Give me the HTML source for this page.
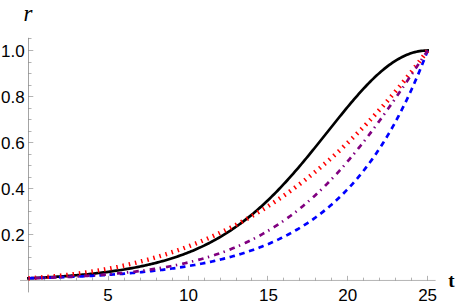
<!DOCTYPE html>
<html><head><meta charset="utf-8"><style>
html,body{margin:0;padding:0;background:#fff;}
svg{display:block;}
</style></head><body>
<svg width="457" height="306" viewBox="0 0 457 306">
<rect width="457" height="306" fill="#fff"/>
<g stroke="#666" stroke-width="0.5" fill="none">
<line x1="20" y1="280.45" x2="435.6" y2="280.45" stroke-width="0.5"/>
<line x1="28.5" y1="292.4" x2="28.5" y2="37.8" stroke-width="0.6"/>
<line x1="44.50" y1="280.45" x2="44.50" y2="277.65"/>
<line x1="60.50" y1="280.45" x2="60.50" y2="277.65"/>
<line x1="76.50" y1="280.45" x2="76.50" y2="277.65"/>
<line x1="92.50" y1="280.45" x2="92.50" y2="277.65"/>
<line x1="108.50" y1="280.45" x2="108.50" y2="275.85"/>
<line x1="124.50" y1="280.45" x2="124.50" y2="277.65"/>
<line x1="140.50" y1="280.45" x2="140.50" y2="277.65"/>
<line x1="156.50" y1="280.45" x2="156.50" y2="277.65"/>
<line x1="172.50" y1="280.45" x2="172.50" y2="277.65"/>
<line x1="188.50" y1="280.45" x2="188.50" y2="275.85"/>
<line x1="204.50" y1="280.45" x2="204.50" y2="277.65"/>
<line x1="220.50" y1="280.45" x2="220.50" y2="277.65"/>
<line x1="236.50" y1="280.45" x2="236.50" y2="277.65"/>
<line x1="251.50" y1="280.45" x2="251.50" y2="277.65"/>
<line x1="267.50" y1="280.45" x2="267.50" y2="275.85"/>
<line x1="283.50" y1="280.45" x2="283.50" y2="277.65"/>
<line x1="299.50" y1="280.45" x2="299.50" y2="277.65"/>
<line x1="315.50" y1="280.45" x2="315.50" y2="277.65"/>
<line x1="331.50" y1="280.45" x2="331.50" y2="277.65"/>
<line x1="347.50" y1="280.45" x2="347.50" y2="275.85"/>
<line x1="363.50" y1="280.45" x2="363.50" y2="277.65"/>
<line x1="379.50" y1="280.45" x2="379.50" y2="277.65"/>
<line x1="395.50" y1="280.45" x2="395.50" y2="277.65"/>
<line x1="411.50" y1="280.45" x2="411.50" y2="277.65"/>
<line x1="427.50" y1="280.45" x2="427.50" y2="275.85"/>
<line x1="28.50" y1="269.50" x2="31.50" y2="269.50"/>
<line x1="28.50" y1="257.50" x2="31.50" y2="257.50"/>
<line x1="28.50" y1="246.50" x2="31.50" y2="246.50"/>
<line x1="28.50" y1="234.50" x2="33.30" y2="234.50"/>
<line x1="28.50" y1="223.50" x2="31.50" y2="223.50"/>
<line x1="28.50" y1="211.50" x2="31.50" y2="211.50"/>
<line x1="28.50" y1="200.50" x2="31.50" y2="200.50"/>
<line x1="28.50" y1="188.50" x2="33.30" y2="188.50"/>
<line x1="28.50" y1="177.50" x2="31.50" y2="177.50"/>
<line x1="28.50" y1="165.50" x2="31.50" y2="165.50"/>
<line x1="28.50" y1="154.50" x2="31.50" y2="154.50"/>
<line x1="28.50" y1="142.50" x2="33.30" y2="142.50"/>
<line x1="28.50" y1="131.50" x2="31.50" y2="131.50"/>
<line x1="28.50" y1="119.50" x2="31.50" y2="119.50"/>
<line x1="28.50" y1="108.50" x2="31.50" y2="108.50"/>
<line x1="28.50" y1="96.50" x2="33.30" y2="96.50"/>
<line x1="28.50" y1="85.50" x2="31.50" y2="85.50"/>
<line x1="28.50" y1="73.50" x2="31.50" y2="73.50"/>
<line x1="28.50" y1="62.50" x2="31.50" y2="62.50"/>
<line x1="28.50" y1="50.50" x2="33.30" y2="50.50"/>
<line x1="28.50" y1="38.50" x2="31.50" y2="38.50"/>
</g>
<g fill="none" stroke-width="2.7">
<path d="M28.40,278.30 L30.00,278.23 L31.59,278.15 L33.19,278.08 L34.79,278.00 L36.38,277.92 L37.98,277.84 L39.58,277.76 L41.18,277.67 L42.77,277.59 L44.37,277.50 L45.97,277.41 L47.56,277.32 L49.16,277.22 L50.76,277.13 L52.36,277.03 L53.95,276.93 L55.55,276.82 L57.15,276.72 L58.74,276.61 L60.34,276.50 L61.94,276.39 L63.53,276.27 L65.13,276.16 L66.73,276.04 L68.33,275.92 L69.92,275.79 L71.52,275.66 L73.12,275.53 L74.71,275.40 L76.31,275.26 L77.91,275.13 L79.50,274.98 L81.10,274.84 L82.70,274.69 L84.30,274.54 L85.89,274.38 L87.49,274.23 L89.09,274.07 L90.68,273.90 L92.28,273.73 L93.88,273.56 L95.47,273.38 L97.07,273.20 L98.67,273.02 L100.27,272.83 L101.86,272.64 L103.46,272.44 L105.06,272.24 L106.65,272.04 L108.25,271.83 L109.85,271.62 L111.44,271.40 L113.04,271.17 L114.64,270.94 L116.24,270.71 L117.83,270.47 L119.43,270.23 L121.03,269.98 L122.62,269.72 L124.22,269.46 L125.82,269.20 L127.41,268.92 L129.01,268.65 L130.61,268.36 L132.21,268.07 L133.80,267.77 L135.40,267.47 L137.00,267.16 L138.59,266.84 L140.19,266.51 L141.79,266.18 L143.38,265.84 L144.98,265.50 L146.58,265.14 L148.18,264.78 L149.77,264.41 L151.37,264.03 L152.97,263.64 L154.56,263.24 L156.16,262.84 L157.76,262.43 L159.35,262.00 L160.95,261.57 L162.55,261.13 L164.15,260.68 L165.74,260.22 L167.34,259.74 L168.94,259.26 L170.53,258.77 L172.13,258.27 L173.73,257.75 L175.32,257.23 L176.92,256.69 L178.52,256.14 L180.12,255.58 L181.71,255.01 L183.31,254.42 L184.91,253.83 L186.50,253.22 L188.10,252.59 L189.70,251.96 L191.29,251.31 L192.89,250.64 L194.49,249.97 L196.09,249.28 L197.68,248.57 L199.28,247.85 L200.88,247.12 L202.47,246.37 L204.07,245.60 L205.67,244.82 L207.26,244.03 L208.86,243.21 L210.46,242.39 L212.06,241.54 L213.65,240.68 L215.25,239.80 L216.85,238.91 L218.44,237.99 L220.04,237.06 L221.64,236.12 L223.23,235.15 L224.83,234.17 L226.43,233.17 L228.03,232.15 L229.62,231.11 L231.22,230.05 L232.82,228.97 L234.41,227.88 L236.01,226.76 L237.61,225.63 L239.20,224.47 L240.80,223.30 L242.40,222.10 L244.00,220.89 L245.59,219.65 L247.19,218.40 L248.79,217.12 L250.38,215.83 L251.98,214.51 L253.58,213.18 L255.17,211.82 L256.77,210.44 L258.37,209.05 L259.96,207.63 L261.56,206.19 L263.16,204.73 L264.76,203.25 L266.35,201.75 L267.95,200.23 L269.55,198.69 L271.14,197.13 L272.74,195.55 L274.34,193.95 L275.94,192.33 L277.53,190.69 L279.13,189.03 L280.73,187.36 L282.32,185.66 L283.92,183.95 L285.52,182.22 L287.11,180.47 L288.71,178.70 L290.31,176.92 L291.90,175.12 L293.50,173.30 L295.10,171.47 L296.70,169.63 L298.29,167.77 L299.89,165.89 L301.49,164.00 L303.08,162.10 L304.68,160.19 L306.28,158.26 L307.88,156.33 L309.47,154.38 L311.07,152.42 L312.67,150.46 L314.26,148.49 L315.86,146.51 L317.46,144.52 L319.05,142.53 L320.65,140.53 L322.25,138.53 L323.84,136.52 L325.44,134.52 L327.04,132.51 L328.64,130.50 L330.23,128.49 L331.83,126.49 L333.43,124.48 L335.02,122.48 L336.62,120.49 L338.22,118.50 L339.81,116.52 L341.41,114.55 L343.01,112.59 L344.61,110.63 L346.20,108.69 L347.80,106.76 L349.40,104.85 L350.99,102.95 L352.59,101.07 L354.19,99.20 L355.78,97.35 L357.38,95.53 L358.98,93.72 L360.58,91.94 L362.17,90.18 L363.77,88.44 L365.37,86.73 L366.96,85.05 L368.56,83.40 L370.16,81.77 L371.75,80.17 L373.35,78.61 L374.95,77.08 L376.55,75.58 L378.14,74.12 L379.74,72.69 L381.34,71.30 L382.93,69.95 L384.53,68.64 L386.13,67.37 L387.72,66.13 L389.32,64.94 L390.92,63.79 L392.52,62.69 L394.11,61.63 L395.71,60.61 L397.31,59.64 L398.90,58.72 L400.50,57.84 L402.10,57.01 L403.69,56.23 L405.29,55.49 L406.89,54.81 L408.49,54.17 L410.08,53.59 L411.68,53.05 L413.28,52.57 L414.87,52.13 L416.47,51.75 L418.07,51.42 L419.67,51.14 L421.26,50.91 L422.86,50.73 L424.46,50.60 L426.05,50.53 L427.65,50.50" stroke="#000" stroke-linecap="square"/>
<path d="M28.40,278.30 L30.00,278.26 L31.59,278.21 L33.19,278.17 L34.79,278.12 L36.38,278.08 L37.98,278.03 L39.58,277.98 L41.18,277.93 L42.77,277.88 L44.37,277.83 L45.97,277.78 L47.56,277.73 L49.16,277.68 L50.76,277.62 L52.36,277.57 L53.95,277.51 L55.55,277.45 L57.15,277.39 L58.74,277.33 L60.34,277.27 L61.94,277.21 L63.53,277.15 L65.13,277.09 L66.73,277.02 L68.33,276.95 L69.92,276.89 L71.52,276.82 L73.12,276.75 L74.71,276.67 L76.31,276.60 L77.91,276.53 L79.50,276.45 L81.10,276.37 L82.70,276.30 L84.30,276.22 L85.89,276.13 L87.49,276.05 L89.09,275.97 L90.68,275.88 L92.28,275.79 L93.88,275.70 L95.47,275.61 L97.07,275.52 L98.67,275.42 L100.27,275.33 L101.86,275.23 L103.46,275.13 L105.06,275.03 L106.65,274.93 L108.25,274.82 L109.85,274.71 L111.44,274.60 L113.04,274.49 L114.64,274.38 L116.24,274.26 L117.83,274.14 L119.43,274.02 L121.03,273.90 L122.62,273.78 L124.22,273.65 L125.82,273.52 L127.41,273.39 L129.01,273.26 L130.61,273.12 L132.21,272.98 L133.80,272.84 L135.40,272.69 L137.00,272.55 L138.59,272.40 L140.19,272.25 L141.79,272.09 L143.38,271.93 L144.98,271.77 L146.58,271.61 L148.18,271.44 L149.77,271.27 L151.37,271.10 L152.97,270.92 L154.56,270.74 L156.16,270.56 L157.76,270.37 L159.35,270.18 L160.95,269.99 L162.55,269.79 L164.15,269.59 L165.74,269.38 L167.34,269.17 L168.94,268.96 L170.53,268.74 L172.13,268.52 L173.73,268.30 L175.32,268.07 L176.92,267.84 L178.52,267.60 L180.12,267.36 L181.71,267.11 L183.31,266.86 L184.91,266.61 L186.50,266.35 L188.10,266.08 L189.70,265.81 L191.29,265.54 L192.89,265.26 L194.49,264.97 L196.09,264.68 L197.68,264.39 L199.28,264.08 L200.88,263.78 L202.47,263.46 L204.07,263.15 L205.67,262.82 L207.26,262.49 L208.86,262.15 L210.46,261.81 L212.06,261.46 L213.65,261.11 L215.25,260.74 L216.85,260.37 L218.44,260.00 L220.04,259.61 L221.64,259.22 L223.23,258.83 L224.83,258.42 L226.43,258.01 L228.03,257.59 L229.62,257.16 L231.22,256.73 L232.82,256.28 L234.41,255.83 L236.01,255.37 L237.61,254.90 L239.20,254.42 L240.80,253.94 L242.40,253.44 L244.00,252.94 L245.59,252.42 L247.19,251.90 L248.79,251.36 L250.38,250.82 L251.98,250.27 L253.58,249.70 L255.17,249.13 L256.77,248.54 L258.37,247.95 L259.96,247.34 L261.56,246.72 L263.16,246.09 L264.76,245.45 L266.35,244.80 L267.95,244.13 L269.55,243.45 L271.14,242.76 L272.74,242.06 L274.34,241.34 L275.94,240.61 L277.53,239.87 L279.13,239.11 L280.73,238.34 L282.32,237.56 L283.92,236.76 L285.52,235.94 L287.11,235.11 L288.71,234.26 L290.31,233.40 L291.90,232.53 L293.50,231.63 L295.10,230.72 L296.70,229.79 L298.29,228.85 L299.89,227.89 L301.49,226.91 L303.08,225.91 L304.68,224.89 L306.28,223.86 L307.88,222.80 L309.47,221.73 L311.07,220.63 L312.67,219.52 L314.26,218.38 L315.86,217.23 L317.46,216.05 L319.05,214.85 L320.65,213.62 L322.25,212.38 L323.84,211.11 L325.44,209.82 L327.04,208.50 L328.64,207.16 L330.23,205.80 L331.83,204.41 L333.43,202.99 L335.02,201.55 L336.62,200.08 L338.22,198.58 L339.81,197.06 L341.41,195.50 L343.01,193.92 L344.61,192.31 L346.20,190.67 L347.80,189.00 L349.40,187.29 L350.99,185.56 L352.59,183.79 L354.19,181.99 L355.78,180.16 L357.38,178.29 L358.98,176.39 L360.58,174.45 L362.17,172.48 L363.77,170.47 L365.37,168.42 L366.96,166.33 L368.56,164.21 L370.16,162.05 L371.75,159.84 L373.35,157.60 L374.95,155.31 L376.55,152.98 L378.14,150.61 L379.74,148.19 L381.34,145.73 L382.93,143.22 L384.53,140.67 L386.13,138.07 L387.72,135.42 L389.32,132.72 L390.92,129.97 L392.52,127.17 L394.11,124.32 L395.71,121.41 L397.31,118.45 L398.90,115.44 L400.50,112.36 L402.10,109.24 L403.69,106.05 L405.29,102.81 L406.89,99.50 L408.49,96.13 L410.08,92.70 L411.68,89.21 L413.28,85.65 L414.87,82.03 L416.47,78.34 L418.07,74.58 L419.67,70.75 L421.26,66.84 L422.86,62.87 L424.46,58.82 L426.05,54.70 L427.65,50.50" stroke="#0000ff" stroke-dasharray="5.5 4.63" stroke-dashoffset="-0.15"/>
<path d="M28.40,278.30 L30.00,278.20 L31.59,278.09 L33.19,277.98 L34.79,277.87 L36.38,277.76 L37.98,277.64 L39.58,277.52 L41.18,277.40 L42.77,277.27 L44.37,277.14 L45.97,277.01 L47.56,276.87 L49.16,276.73 L50.76,276.58 L52.36,276.44 L53.95,276.29 L55.55,276.13 L57.15,275.97 L58.74,275.81 L60.34,275.65 L61.94,275.48 L63.53,275.30 L65.13,275.12 L66.73,274.94 L68.33,274.76 L69.92,274.57 L71.52,274.38 L73.12,274.18 L74.71,273.98 L76.31,273.77 L77.91,273.56 L79.50,273.35 L81.10,273.13 L82.70,272.91 L84.30,272.68 L85.89,272.45 L87.49,272.21 L89.09,271.97 L90.68,271.73 L92.28,271.48 L93.88,271.22 L95.47,270.97 L97.07,270.70 L98.67,270.43 L100.27,270.16 L101.86,269.88 L103.46,269.60 L105.06,269.31 L106.65,269.02 L108.25,268.72 L109.85,268.42 L111.44,268.11 L113.04,267.80 L114.64,267.48 L116.24,267.15 L117.83,266.83 L119.43,266.49 L121.03,266.15 L122.62,265.81 L124.22,265.46 L125.82,265.10 L127.41,264.74 L129.01,264.37 L130.61,264.00 L132.21,263.62 L133.80,263.24 L135.40,262.85 L137.00,262.45 L138.59,262.05 L140.19,261.64 L141.79,261.23 L143.38,260.81 L144.98,260.39 L146.58,259.96 L148.18,259.52 L149.77,259.08 L151.37,258.63 L152.97,258.17 L154.56,257.71 L156.16,257.24 L157.76,256.77 L159.35,256.28 L160.95,255.80 L162.55,255.30 L164.15,254.80 L165.74,254.30 L167.34,253.78 L168.94,253.26 L170.53,252.73 L172.13,252.20 L173.73,251.66 L175.32,251.11 L176.92,250.56 L178.52,250.00 L180.12,249.43 L181.71,248.86 L183.31,248.27 L184.91,247.68 L186.50,247.09 L188.10,246.49 L189.70,245.88 L191.29,245.26 L192.89,244.63 L194.49,244.00 L196.09,243.36 L197.68,242.71 L199.28,242.06 L200.88,241.40 L202.47,240.73 L204.07,240.05 L205.67,239.37 L207.26,238.67 L208.86,237.97 L210.46,237.27 L212.06,236.55 L213.65,235.83 L215.25,235.09 L216.85,234.36 L218.44,233.61 L220.04,232.85 L221.64,232.09 L223.23,231.32 L224.83,230.54 L226.43,229.75 L228.03,228.95 L229.62,228.15 L231.22,227.34 L232.82,226.52 L234.41,225.69 L236.01,224.85 L237.61,224.00 L239.20,223.15 L240.80,222.29 L242.40,221.41 L244.00,220.53 L245.59,219.64 L247.19,218.75 L248.79,217.84 L250.38,216.92 L251.98,216.00 L253.58,215.07 L255.17,214.12 L256.77,213.17 L258.37,212.21 L259.96,211.24 L261.56,210.27 L263.16,209.28 L264.76,208.28 L266.35,207.27 L267.95,206.26 L269.55,205.23 L271.14,204.20 L272.74,203.16 L274.34,202.10 L275.94,201.04 L277.53,199.97 L279.13,198.89 L280.73,197.80 L282.32,196.70 L283.92,195.59 L285.52,194.47 L287.11,193.34 L288.71,192.20 L290.31,191.05 L291.90,189.89 L293.50,188.72 L295.10,187.54 L296.70,186.35 L298.29,185.15 L299.89,183.94 L301.49,182.72 L303.08,181.49 L304.68,180.25 L306.28,178.99 L307.88,177.73 L309.47,176.46 L311.07,175.18 L312.67,173.89 L314.26,172.58 L315.86,171.27 L317.46,169.94 L319.05,168.61 L320.65,167.26 L322.25,165.91 L323.84,164.54 L325.44,163.16 L327.04,161.77 L328.64,160.37 L330.23,158.96 L331.83,157.54 L333.43,156.11 L335.02,154.66 L336.62,153.21 L338.22,151.74 L339.81,150.27 L341.41,148.78 L343.01,147.28 L344.61,145.77 L346.20,144.24 L347.80,142.71 L349.40,141.16 L350.99,139.61 L352.59,138.04 L354.19,136.46 L355.78,134.87 L357.38,133.26 L358.98,131.65 L360.58,130.02 L362.17,128.38 L363.77,126.73 L365.37,125.07 L366.96,123.39 L368.56,121.71 L370.16,120.01 L371.75,118.30 L373.35,116.58 L374.95,114.84 L376.55,113.09 L378.14,111.33 L379.74,109.56 L381.34,107.78 L382.93,105.98 L384.53,104.17 L386.13,102.35 L387.72,100.52 L389.32,98.67 L390.92,96.82 L392.52,94.94 L394.11,93.06 L395.71,91.16 L397.31,89.25 L398.90,87.33 L400.50,85.40 L402.10,83.45 L403.69,81.49 L405.29,79.52 L406.89,77.53 L408.49,75.53 L410.08,73.52 L411.68,71.49 L413.28,69.45 L414.87,67.40 L416.47,65.33 L418.07,63.25 L419.67,61.16 L421.26,59.06 L422.86,56.94 L424.46,54.81 L426.05,52.66 L427.65,50.50" stroke="#ff0000" stroke-width="4.4" stroke-dasharray="1.5 4.84" stroke-dashoffset="0"/>
<path d="M28.40,278.30 L30.00,278.25 L31.59,278.21 L33.19,278.16 L34.79,278.11 L36.38,278.07 L37.98,278.02 L39.58,277.96 L41.18,277.91 L42.77,277.86 L44.37,277.80 L45.97,277.75 L47.56,277.69 L49.16,277.63 L50.76,277.57 L52.36,277.51 L53.95,277.45 L55.55,277.39 L57.15,277.32 L58.74,277.26 L60.34,277.19 L61.94,277.12 L63.53,277.05 L65.13,276.98 L66.73,276.90 L68.33,276.83 L69.92,276.75 L71.52,276.67 L73.12,276.59 L74.71,276.51 L76.31,276.42 L77.91,276.34 L79.50,276.25 L81.10,276.16 L82.70,276.07 L84.30,275.97 L85.89,275.87 L87.49,275.78 L89.09,275.68 L90.68,275.57 L92.28,275.47 L93.88,275.36 L95.47,275.25 L97.07,275.14 L98.67,275.02 L100.27,274.90 L101.86,274.78 L103.46,274.66 L105.06,274.54 L106.65,274.41 L108.25,274.28 L109.85,274.14 L111.44,274.01 L113.04,273.87 L114.64,273.72 L116.24,273.58 L117.83,273.43 L119.43,273.28 L121.03,273.12 L122.62,272.96 L124.22,272.80 L125.82,272.63 L127.41,272.46 L129.01,272.29 L130.61,272.11 L132.21,271.93 L133.80,271.75 L135.40,271.56 L137.00,271.37 L138.59,271.17 L140.19,270.97 L141.79,270.76 L143.38,270.55 L144.98,270.34 L146.58,270.12 L148.18,269.89 L149.77,269.66 L151.37,269.43 L152.97,269.19 L154.56,268.95 L156.16,268.70 L157.76,268.44 L159.35,268.19 L160.95,267.92 L162.55,267.65 L164.15,267.37 L165.74,267.09 L167.34,266.80 L168.94,266.51 L170.53,266.21 L172.13,265.90 L173.73,265.59 L175.32,265.27 L176.92,264.95 L178.52,264.61 L180.12,264.27 L181.71,263.93 L183.31,263.57 L184.91,263.21 L186.50,262.85 L188.10,262.47 L189.70,262.09 L191.29,261.70 L192.89,261.30 L194.49,260.89 L196.09,260.48 L197.68,260.05 L199.28,259.62 L200.88,259.18 L202.47,258.73 L204.07,258.28 L205.67,257.81 L207.26,257.33 L208.86,256.85 L210.46,256.35 L212.06,255.85 L213.65,255.34 L215.25,254.81 L216.85,254.28 L218.44,253.73 L220.04,253.18 L221.64,252.61 L223.23,252.04 L224.83,251.45 L226.43,250.85 L228.03,250.25 L229.62,249.63 L231.22,248.99 L232.82,248.35 L234.41,247.70 L236.01,247.03 L237.61,246.35 L239.20,245.66 L240.80,244.95 L242.40,244.23 L244.00,243.50 L245.59,242.76 L247.19,242.01 L248.79,241.24 L250.38,240.45 L251.98,239.66 L253.58,238.84 L255.17,238.02 L256.77,237.18 L258.37,236.33 L259.96,235.46 L261.56,234.58 L263.16,233.68 L264.76,232.76 L266.35,231.84 L267.95,230.89 L269.55,229.93 L271.14,228.96 L272.74,227.97 L274.34,226.96 L275.94,225.94 L277.53,224.90 L279.13,223.84 L280.73,222.77 L282.32,221.68 L283.92,220.57 L285.52,219.45 L287.11,218.31 L288.71,217.15 L290.31,215.97 L291.90,214.78 L293.50,213.57 L295.10,212.34 L296.70,211.09 L298.29,209.83 L299.89,208.55 L301.49,207.24 L303.08,205.92 L304.68,204.58 L306.28,203.23 L307.88,201.85 L309.47,200.46 L311.07,199.04 L312.67,197.61 L314.26,196.16 L315.86,194.68 L317.46,193.19 L319.05,191.68 L320.65,190.16 L322.25,188.61 L323.84,187.04 L325.44,185.45 L327.04,183.85 L328.64,182.22 L330.23,180.58 L331.83,178.91 L333.43,177.23 L335.02,175.53 L336.62,173.80 L338.22,172.06 L339.81,170.30 L341.41,168.52 L343.01,166.73 L344.61,164.91 L346.20,163.07 L347.80,161.22 L349.40,159.34 L350.99,157.45 L352.59,155.54 L354.19,153.61 L355.78,151.67 L357.38,149.70 L358.98,147.72 L360.58,145.72 L362.17,143.70 L363.77,141.67 L365.37,139.62 L366.96,137.55 L368.56,135.47 L370.16,133.37 L371.75,131.25 L373.35,129.12 L374.95,126.98 L376.55,124.81 L378.14,122.64 L379.74,120.45 L381.34,118.25 L382.93,116.03 L384.53,113.80 L386.13,111.56 L387.72,109.30 L389.32,107.04 L390.92,104.76 L392.52,102.47 L394.11,100.17 L395.71,97.86 L397.31,95.54 L398.90,93.22 L400.50,90.88 L402.10,88.54 L403.69,86.19 L405.29,83.83 L406.89,81.47 L408.49,79.10 L410.08,76.73 L411.68,74.35 L413.28,71.97 L414.87,69.59 L416.47,67.20 L418.07,64.81 L419.67,62.43 L421.26,60.04 L422.86,57.65 L424.46,55.26 L426.05,52.88 L427.65,50.50" stroke="#800080" stroke-dasharray="1.4 5.1 5.5 4.51" stroke-dashoffset="0.4"/>
</g>
<g fill="#000" font-family="'Liberation Sans', sans-serif" font-size="17">
<text x="108.1" y="300.9" text-anchor="middle">5</text>
<text x="188.5" y="300.9" text-anchor="middle">10</text>
<text x="268.4" y="300.9" text-anchor="middle">15</text>
<text x="347.8" y="300.9" text-anchor="middle">20</text>
<text x="427.6" y="300.9" text-anchor="middle">25</text>
<text x="24.6" y="240.88" text-anchor="end">0.2</text>
<text x="24.6" y="194.86" text-anchor="end">0.4</text>
<text x="24.6" y="148.84" text-anchor="end">0.6</text>
<text x="24.6" y="102.82" text-anchor="end">0.8</text>
<text x="24.6" y="56.8" text-anchor="end">1.0</text>
</g>
<text x="451.5" y="286.7" text-anchor="middle" font-family="'Liberation Serif', serif" font-size="19" font-weight="bold" fill="#000">t</text>
<text x="28" y="20.6" text-anchor="middle" font-family="'Liberation Serif', serif" font-size="23" font-style="italic" fill="#000">r</text>
</svg>
</body></html>
